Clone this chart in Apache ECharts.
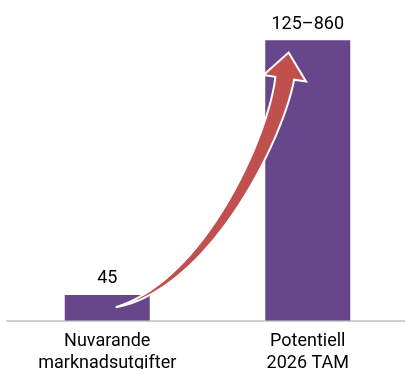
<!DOCTYPE html>
<html>
<head>
<meta charset="utf-8">
<script src="https://cdn.jsdelivr.net/npm/echarts@6/dist/echarts.min.js"></script>
<style>
  html, body { margin: 0; padding: 0; background: #fff; }
  #chart { width: 405px; height: 369px; }
</style>
</head>
<body>
<div id="chart"></div>
<script>
// Market spend today vs. potential 2026 TAM
const categories = ['Nuvarande\nmarknadsutgifter', 'Potentiell\n2026 TAM'];
const rangeLow = [45, 125];
const rangeHigh = [45, 860];
const valueLabels = ['45', '125–860'];

// Each bar sits at the middle of its range
const barValues = rangeLow.map((lo, i) => (lo + rangeHigh[i]) / 2);

const chart = echarts.init(document.getElementById('chart'), null, { renderer: 'canvas' });

const font = 'Roboto, "Liberation Sans", sans-serif';

chart.setOption({
  animation: false,
  grid: {
    left: 7, width: 401, top: 36, height: 284.5,
    containLabel: false,
    outerBoundsMode: 'none'
  },
  xAxis: {
    type: 'category',
    data: categories,
    axisLine: { show: true, lineStyle: { color: '#bfbfbf', width: 1.5 } },
    axisTick: { show: false },
    axisLabel: {
      color: '#000',
      fontFamily: font,
      fontSize: 18,
      lineHeight: 22,
      margin: 10,
      interval: 0
    }
  },
  yAxis: {
    type: 'value',
    min: 0,
    max: 500,
    show: false,
    splitLine: { show: false }
  },
  series: [{
    type: 'bar',
    data: barValues,
    barWidth: 85,
    itemStyle: { color: '#67468b' },
    label: {
      show: true,
      position: 'top',
      distance: 7,
      color: '#000',
      fontFamily: font,
      fontSize: 18,
      formatter: p => valueLabels[p.dataIndex]
    }
  }]
});

// Curved growth arrow from the first bar up to the second
function drawArrow() {
  const a = chart.convertToPixel({ seriesIndex: 0 }, [0, barValues[0]]);
  const b = chart.convertToPixel({ seriesIndex: 0 }, [1, barValues[1]]);

  const p0 = [a[0] + 8.5, a[1] + 12.3];
  const p1 = [a[0] + 100, a[1] - 10];
  const p2 = [b[0] - 32, b[1] + 98];
  const p3 = [b[0] - 23, b[1] + 38];

  const bez = (t) => {
    const u = 1 - t;
    return [
      u*u*u*p0[0] + 3*u*u*t*p1[0] + 3*u*t*t*p2[0] + t*t*t*p3[0],
      u*u*u*p0[1] + 3*u*u*t*p1[1] + 3*u*t*t*p2[1] + t*t*t*p3[1]
    ];
  };
  const der = (t) => {
    const u = 1 - t;
    return [
      3*u*u*(p1[0]-p0[0]) + 6*u*t*(p2[0]-p1[0]) + 3*t*t*(p3[0]-p2[0]),
      3*u*u*(p1[1]-p0[1]) + 6*u*t*(p2[1]-p1[1]) + 3*t*t*(p3[1]-p2[1])
    ];
  };

  const N = 80, wMax = 19;
  const left = [], right = [];
  for (let i = 0; i <= N; i++) {
    const t = i / N;
    const p = bez(t);
    const d = der(t);
    const len = Math.hypot(d[0], d[1]);
    const n = [-d[1] / len, d[0] / len];
    const w = wMax * Math.pow(t, 0.8) / 2;
    left.push([p[0] + n[0]*w, p[1] + n[1]*w]);
    right.push([p[0] - n[0]*w, p[1] - n[1]*w]);
  }
  const dEnd = der(1);
  const le = Math.hypot(dEnd[0], dEnd[1]);
  const dir = [dEnd[0]/le, dEnd[1]/le];
  const nrm = [-dir[1], dir[0]];
  const headHalf = 21.5, headLen = 26;
  const wingL = [p3[0] + nrm[0]*headHalf, p3[1] + nrm[1]*headHalf];
  const wingR = [p3[0] - nrm[0]*headHalf, p3[1] - nrm[1]*headHalf];
  const tip = [p3[0] + dir[0]*headLen, p3[1] + dir[1]*headLen];

  const pts = left.concat([wingL, tip, wingR], right.slice().reverse());

  chart.setOption({
    graphic: [{
      type: 'polygon',
      z: 100,
      shape: { points: pts },
      style: {
        fill: '#c0504d',
        stroke: '#ffffff',
        lineWidth: 2,
        lineJoin: 'miter'
      }
    }]
  });
}
drawArrow();
</script>
</body>
</html>
